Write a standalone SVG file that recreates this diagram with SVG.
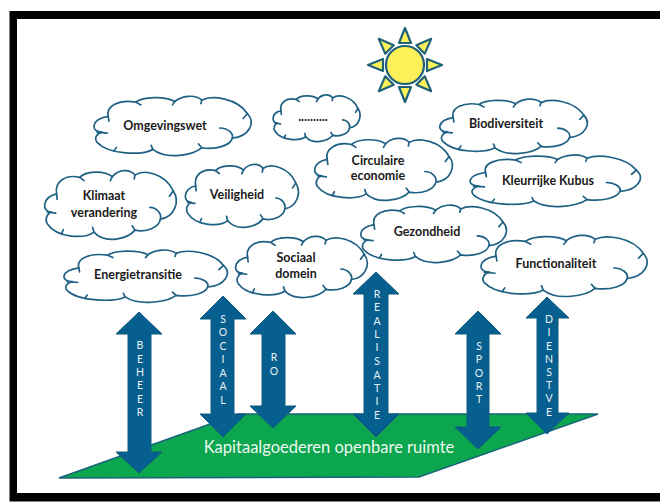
<svg xmlns="http://www.w3.org/2000/svg" width="660" height="502" viewBox="0 0 660 502">
<style>
.cl{fill:#fff;stroke:#1f6184;stroke-width:1.7;vector-effect:non-scaling-stroke;stroke-linejoin:round;stroke-linecap:round}
.tick{fill:none}
.t{font-family:Lato,"Liberation Sans",sans-serif;font-size:12.5px;font-weight:700;fill:#1a1a1a;text-anchor:middle}
.v{font-family:Lato,"Liberation Sans",sans-serif;font-size:10.5px;fill:#e8f2f6;text-anchor:middle}
.ar{fill:#075f8f;stroke:#0f5a80;stroke-width:1}
.ray{fill:#fdf15a;stroke:#1f6178;stroke-width:2.2;stroke-linejoin:round}
</style>
<defs>
<g id="cloud">
<path class="cl" d="M48,66C40,35 80,15 130,24C150,8 215,5 245,22C265,5 305,0 325,18C355,3 430,12 460,58C485,85 465,125 415,130C410,150 370,165 325,158C300,180 220,195 180,163C150,180 50,180 15,142C5,130 15,115 30,112C-5,112 -5,75 48,66Z"/>
<path class="cl tick" d="M378,100C400,100 420,115 415,130M15,112L45,115M48,66L50,80M130,24L145,32M245,22L238,32M325,18L322,28M460,58L447,72M325,158L315,147M180,163L175,151M65,168L72,157"/>
</g>
</defs>
<rect x="0" y="0" width="660" height="502" fill="#fff"/>
<path d="M9.5,11H660V19H17V493H660V501.5H9.5Z" fill="#000"/>
<g id="sun">
<circle cx="405" cy="65" r="19" fill="#fdf15a" stroke="#1f6178" stroke-width="2.2"/>
<g class="ray">
<path d="M405,28L411,43H399Z"/>
<path d="M405,28L411,43H399Z" transform="rotate(45 405 65)"/>
<path d="M405,28L411,43H399Z" transform="rotate(90 405 65)"/>
<path d="M405,28L411,43H399Z" transform="rotate(135 405 65)"/>
<path d="M405,28L411,43H399Z" transform="rotate(180 405 65)"/>
<path d="M405,28L411,43H399Z" transform="rotate(225 405 65)"/>
<path d="M405,28L411,43H399Z" transform="rotate(270 405 65)"/>
<path d="M405,28L411,43H399Z" transform="rotate(315 405 65)"/>
</g>
</g>
<g id="clouds">
<g id="omgevingswet"><use href="#cloud" transform="translate(92 94) scale(.338 .34)"/><text class="t" x="165" y="130">Omgevingswet</text></g>
<g id="dots"><use href="#cloud" transform="translate(272 93) scale(.187 .268)"/><text class="t" x="313" y="121">..........</text></g>
<g id="biodiversiteit"><use href="#cloud" transform="translate(438 97) scale(.317 .312)"/><text class="t" x="506" y="128">Biodiversiteit</text></g>
<g id="circulaire"><use href="#cloud" transform="translate(313 136) scale(.296 .355)"/><text class="t" x="378" y="165">Circulaire</text><text class="t" x="378" y="180">economie</text></g>
<g id="kleurrijke"><use href="#cloud" transform="translate(468 153) scale(.366 .295)"/><text class="t" x="548" y="185">Kleurrijke Kubus</text></g>
<g id="klimaat"><use href="#cloud" transform="translate(43 168) scale(.283 .393)"/><text class="t" x="104" y="200">Klimaat</text><text class="t" x="104" y="217">verandering</text></g>
<g id="veiligheid"><use href="#cloud" transform="translate(184 162) scale(.243 .36)"/><text class="t" x="237" y="199">Veiligheid</text></g>
<g id="energietransitie"><use href="#cloud" transform="translate(62 248) scale(.351 .3)"/><text class="t" x="138" y="279">Energietransitie</text></g>
<g id="sociaal"><use href="#cloud" transform="translate(234 234) scale(.283 .35)"/><text class="t" x="296" y="262">Sociaal</text><text class="t" x="296" y="278">domein</text></g>
<g id="gezondheid"><use href="#cloud" transform="translate(359 203) scale(.313 .328)"/><text class="t" x="427" y="236">Gezondheid</text></g>
<g id="functionaliteit"><use href="#cloud" transform="translate(479 233) scale(.357 .35)"/><text class="t" x="556" y="268">Functionaliteit</text></g>
</g>
<g id="ground">
<path d="M59,478L238,414H598L419,477Z" fill="#0ba64e" stroke="#17647a" stroke-width="1.5"/>
<text x="329" y="453" font-family="Lato,'Liberation Sans',sans-serif" font-size="16.5" fill="#eef8f0" text-anchor="middle">Kapitaalgoederen openbare ruimte</text>
</g>
<g id="connectors">
<g id="a-beheer"><path class="ar" d="M139,312L162,334H151V452H162L139,473L116,452H128V334H116Z"/>
<g class="v"><text x="140" y="349">B</text><text x="140" y="363">E</text><text x="140" y="376">H</text><text x="140" y="389">E</text><text x="140" y="403">E</text><text x="140" y="416">R</text></g></g>
<g id="a-sociaal"><path class="ar" d="M223,296L246,319H234V414H246L223,437L200,414H211V319H200Z"/>
<g class="v"><text x="223" y="323">S</text><text x="223" y="336">O</text><text x="223" y="350">C</text><text x="223" y="363">I</text><text x="223" y="377">A</text><text x="223" y="390">A</text><text x="223" y="404">L</text></g></g>
<g id="a-ro"><path class="ar" d="M273,311L296,334H285V406H296L273,428L250,406H262V334H250Z"/>
<g class="v"><text x="274" y="361">R</text><text x="274" y="375">O</text></g></g>
<g id="a-realisatie"><path class="ar" d="M376,272L399,294H388V414H399L376,437L353,414H364V294H353Z"/>
<g class="v"><text x="377" y="298">R</text><text x="377" y="311">E</text><text x="377" y="325">A</text><text x="377" y="338">L</text><text x="377" y="351">I</text><text x="377" y="365">S</text><text x="377" y="379">A</text><text x="377" y="392">T</text><text x="377" y="405">I</text><text x="377" y="419">E</text></g></g>
<g id="a-sport"><path class="ar" d="M478,311L501,334H489V427H501L478,449L455,427H467V334H455Z"/>
<g class="v"><text x="479" y="350">S</text><text x="479" y="363">P</text><text x="479" y="377">O</text><text x="479" y="390">R</text><text x="479" y="403">T</text></g></g>
<g id="a-dienstve"><path class="ar" d="M547,297L569,318H558V413H569L547,434L526,413H537V318H526Z"/>
<g class="v"><text x="549" y="323">D</text><text x="549" y="336">I</text><text x="549" y="350">E</text><text x="549" y="363">N</text><text x="549" y="376">S</text><text x="549" y="389">T</text><text x="549" y="402">V</text><text x="549" y="416">E</text></g></g>
</g>
</svg>
